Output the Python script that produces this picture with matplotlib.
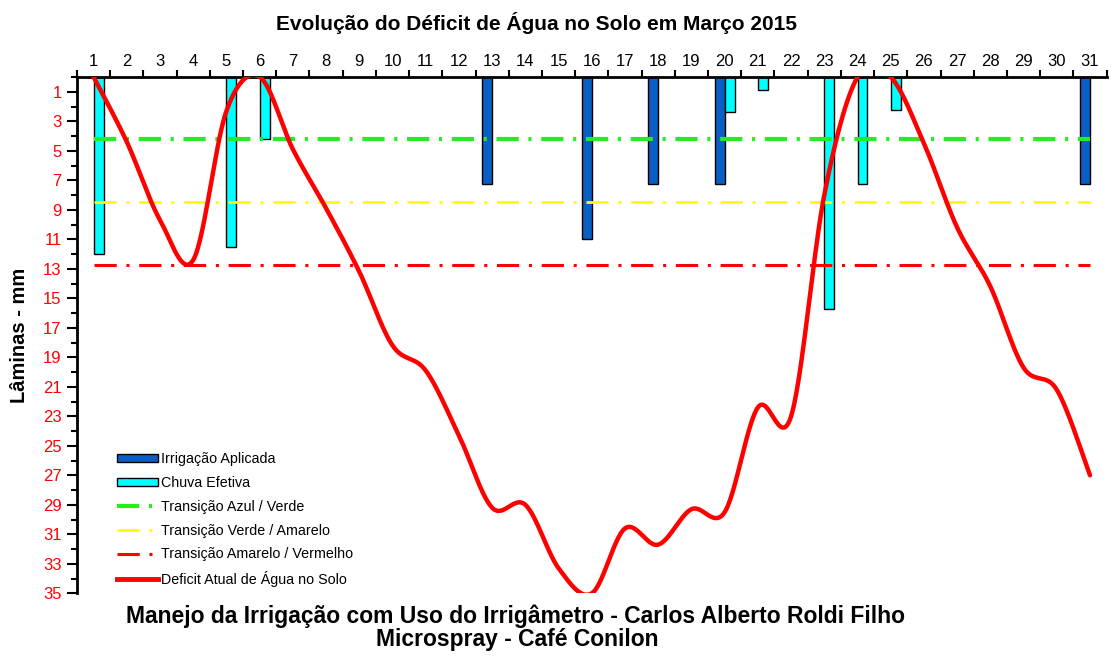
import numpy as np
import matplotlib
matplotlib.use("Agg")
import matplotlib.pyplot as plt
from matplotlib.patches import Patch
from matplotlib.lines import Line2D

plt.rcParams['font.family'] = ['Liberation Sans', 'DejaVu Sans']
plt.rcParams['lines.scale_dashes'] = False

days = list(range(1, 32))
deficit = [0.0, 4.4, 9.7, 12.4, 2.3, 0.0, 4.9, 8.9, 13.2, 18.2, 19.9, 24.3, 29.2, 29.0,
           33.3, 35.0, 30.6, 31.7, 29.3, 29.5, 22.4, 23.0, 8.0, 0.0, 0.0, 4.5, 10.2, 14.2,
           19.7, 21.2, 27.0]
irrig_days = [13, 16, 18, 20, 31]
irrig_vals = [7.28, 10.95, 7.28, 7.28, 7.28]
rain_days = [1, 5, 6, 20, 21, 23, 24, 25]
rain_vals = [12.0, 11.55, 4.2, 2.35, 0.88, 15.76, 7.28, 2.26]
lim_blue_green = 4.23
lim_green_yellow = 8.5
lim_yellow_red = 12.75

title = "Evolução do Déficit de Água no Solo em Março 2015"
footer1 = "Manejo da Irrigação com Uso do Irrigâmetro - Carlos Alberto Roldi Filho"
footer2 = "Microspray - Café Conilon"
ylabel = "Lâminas - mm"
legend_labels = ["Irrigação Aplicada", "Chuva Efetiva", "Transição Azul / Verde",
                 "Transição Verde / Amarelo", "Transição Amarelo / Vermelho",
                 "Deficit Atual de Água no Solo"]

BLUE = "#0a5fc4"
CYAN = "#00ffff"
GREEN = "#22ee22"
YELLOW = "#ffff00"
RED = "#ff0000"


def smooth(xs, ys, n=30):
    # Bezier smoothing like a spreadsheet "smoothed line" (Catmull-Rom)
    P = np.column_stack([xs, ys]).astype(float)
    P = np.vstack([P[0], P, P[-1]])
    out = []
    for i in range(1, len(P) - 2):
        p0, p1, p2, p3 = P[i - 1], P[i], P[i + 1], P[i + 2]
        c1 = p1 + (p2 - p0) / 6.0
        c2 = p2 - (p3 - p1) / 6.0
        t = np.linspace(0, 1, n)[:, None]
        seg = ((1 - t) ** 3) * p1 + 3 * ((1 - t) ** 2) * t * c1 + 3 * (1 - t) * t ** 2 * c2 + t ** 3 * p2
        out.append(seg if i == 1 else seg[1:])
    out = np.vstack(out)
    return out[:, 0], out[:, 1]


fig = plt.figure(figsize=(11.19, 6.58), dpi=100)
ax = fig.add_axes([77 / 1119, 1 - 593.3 / 658, (1106.6 - 77) / 1119, (593.3 - 77) / 658])

w = 0.3
ax.bar(np.array(irrig_days) - w, irrig_vals, width=w, align='edge', color=BLUE,
       edgecolor='black', linewidth=1.0, zorder=2)
ax.bar(rain_days, rain_vals, width=w, align='edge', color=CYAN,
       edgecolor='black', linewidth=1.0, zorder=2)

dash = (16, 7, 2.2, 7)
ax.hlines(lim_blue_green, 1, 31, color=GREEN, linewidth=3.0, linestyles=[(0, dash)], zorder=3)
ax.hlines(lim_green_yellow, 1, 31, color=YELLOW, linewidth=2.0, linestyles=[(0, dash)], zorder=3)
ax.hlines(lim_yellow_red, 1, 31, color=RED, linewidth=2.2, linestyles=[(0, dash)], zorder=3)

sx, sy = smooth(days, deficit)
ax.plot(sx, sy, color=RED, linewidth=3.2, zorder=4, solid_capstyle='round')

ax.set_xlim(0.5, 31.5)
ax.set_ylim(35, 0)

ax.xaxis.tick_top()
ax.set_xticks(days)
ax.set_xticklabels([str(d) for d in days])
ax.set_xticks(np.arange(0.5, 32, 1.0), minor=True)
ax.tick_params(axis='x', which='major', length=0, pad=6, labelsize=12)
ax.tick_params(axis='x', which='minor', length=5, width=1.5, direction='out')

ax.set_yticks(np.arange(1, 36, 2))
ax.set_yticks(np.arange(0, 36, 2), minor=True)
ax.tick_params(axis='y', which='major', length=7, width=1.5, labelsize=12, labelcolor=RED, pad=4)
ax.tick_params(axis='y', which='minor', length=4, width=1.5)

for s in ['right', 'bottom']:
    ax.spines[s].set_visible(False)
for s in ['top', 'left']:
    ax.spines[s].set_linewidth(2.0)

ax.set_ylabel(ylabel, fontsize=14.5, fontweight='bold', labelpad=10)

fig.text(536 / 1119, 1 - 30 / 658, title, ha='center', va='baseline', fontsize=15, fontweight='bold')
fig.text(515 / 1119, 1 - 623 / 658, footer1, ha='center', va='baseline', fontsize=16.5, fontweight='bold')
fig.text(517 / 1119, 1 - 646 / 658, footer2, ha='center', va='baseline', fontsize=16.5, fontweight='bold')

handles = [
    Patch(facecolor=BLUE, edgecolor='black', linewidth=1.0),
    Patch(facecolor=CYAN, edgecolor='black', linewidth=1.0),
    Line2D([], [], color=GREEN, linewidth=3.0, linestyle=(0, (16, 7, 2.2, 7))),
    Line2D([], [], color=YELLOW, linewidth=2.0, linestyle=(0, (16, 7, 2.2, 7))),
    Line2D([], [], color=RED, linewidth=2.2, linestyle=(0, (16, 7, 2.2, 7))),
    Line2D([], [], color=RED, linewidth=3.5),
]
leg = fig.legend(handles, legend_labels, loc='lower left',
                 bbox_to_anchor=(117 / 1119, 1 - 587 / 658), bbox_transform=fig.transFigure,
                 frameon=False, fontsize=10.3, handlelength=2.9, handletextpad=0.2,
                 labelspacing=0.68, borderpad=0, borderaxespad=0, handleheight=0.5)

fig.savefig("out.png", dpi=100)
